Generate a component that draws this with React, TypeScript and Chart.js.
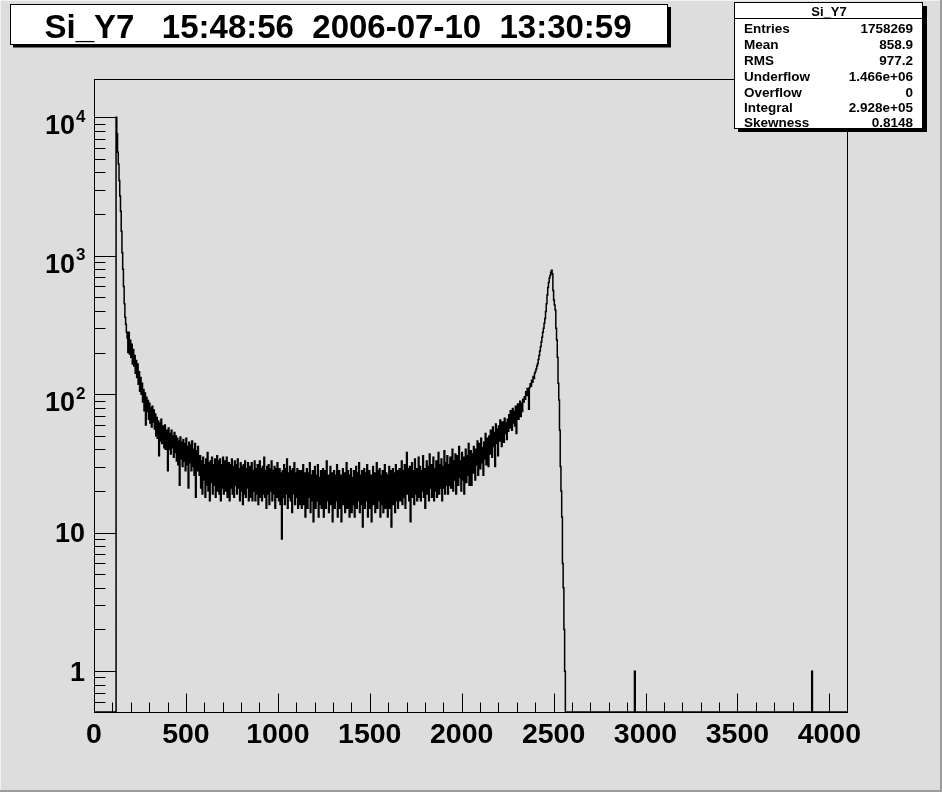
import React, { useEffect, useRef } from 'react';
import { Chart, registerables } from 'chart.js';

Chart.register(...registerables);

// ---------- data (ADC channel histogram, counts per bin) ----------
const BIN_WIDTH = 4;

const decayStart = 120;
const decayCounts = [10000, 7600, 5600, 4600, 3500, 2700, 2100, 1500, 1050, 800, 600, 450, 360, 320, 280];

const shoulderStart = 180;
const shoulderCounts = [
  255, 200, 280, 195, 245, 185, 230, 165, 210, 160,
  190, 142, 175, 132, 165, 118, 145, 105, 132, 100,
  120, 88, 108, 76, 102, 60, 95, 75, 90, 66,
  86, 62, 80, 58, 82, 63, 77, 56, 72, 50,
  68, 48, 64, 36, 62, 46, 66, 44, 59, 50,
  41, 60, 40, 55, 43, 28, 57, 40, 52, 37,
  55, 41, 50, 35, 53, 38, 50, 33, 48, 31,
  46, 22, 49, 34, 45, 30, 47, 33, 44, 28,
  48, 31, 42, 21, 45, 32, 43, 28, 46, 30,
  40, 26, 44, 18, 39, 28, 42, 31, 26,
];

const plateauAStart = 576;
const plateauACounts = [
  36, 21, 33, 19, 35, 24, 31, 18, 34, 22,
  38, 20, 32, 17, 33, 23, 35, 19, 31, 22,
  34, 18, 30, 36, 20, 33, 19, 34, 17, 31,
  21, 35, 19, 30, 33, 20, 35, 18, 29, 32,
  17, 31, 21, 34, 19, 30, 18, 33, 22, 31,
  19, 34, 21, 29, 17, 32, 20, 30, 16, 31,
  19, 33, 18, 29, 21, 32, 17, 28,
];

const plateauBStart = 848;
const plateauBCounts = [
  30, 18, 32, 17, 28, 20, 33, 17, 29, 19,
  31, 16, 27, 33, 18, 29, 17, 30, 19, 35,
  18, 28, 15, 30, 19, 31, 16, 29, 20, 33,
  17, 28, 19, 30, 15, 29, 18, 32, 20, 17,
  29, 16, 27, 9, 28, 18, 31, 16, 29, 19,
  34, 15, 27, 18, 30, 17, 28, 14, 29, 19,
  32, 16, 27, 18, 29, 15, 26, 28,
];

const valleyStart = 1120;
const valleyCounts = [
  16, 28, 15, 25, 31, 16, 27, 13, 24, 29,
  15, 27, 18, 32, 14, 26, 17, 28, 12, 25,
  30, 15, 26, 17, 31, 13, 25, 16, 28, 15,
  24, 29, 13, 24, 28, 15, 33, 17, 26, 14,
  25, 30, 16, 27, 12, 24, 28, 15, 26, 17,
  31, 13, 25, 28, 15, 26, 12, 24, 29, 16,
  27, 14, 25, 32, 15, 28, 17, 13, 26, 29,
  14, 25, 16, 28, 13, 24, 30, 15, 27, 17,
  32, 14, 26, 16, 28, 11, 25, 29, 15, 27,
  17, 31, 13, 25, 28, 15, 26, 12, 24, 30,
  16, 27, 14, 25, 32, 15, 28, 17, 29, 13,
  26, 16, 28, 14, 25, 31, 15, 27, 18, 13,
  26, 30, 15, 28, 11, 25, 29, 16, 27, 14,
  31, 17, 28, 15, 26,
];

const riseAStart = 1660;
const riseACounts = [
  29, 17, 27, 33, 16, 28, 18, 31, 15, 27,
  38, 19, 29, 17, 30, 12, 27, 32, 18, 28,
  16, 34, 19, 29, 17, 28, 35, 18, 30, 17,
  28, 20, 36, 18, 29, 15, 27, 33, 19, 30,
  17, 37, 21, 31, 18, 28, 35, 17, 29, 20,
  33, 18, 30, 38, 19, 31, 21, 34, 17, 30,
  21, 39, 19, 32, 22, 36, 19, 31, 22,
];

const riseBStart = 1936;
const riseBCounts = [
  35, 21, 32, 40, 20, 33, 24, 37, 19, 31,
  36, 22, 42, 25, 33, 20, 38, 24, 35, 19,
  32, 40, 23, 36, 26, 44, 22, 34, 39, 22,
  37, 27, 42, 30, 24, 40, 31, 46, 26, 39,
  44, 29, 48, 32, 41, 26, 45, 34, 52, 31,
  43, 48, 30, 50, 37, 55, 40, 35, 58, 42,
  53, 30, 61, 44, 56, 36, 59, 46, 65, 48,
  42, 63, 51, 45, 67, 52, 62, 47, 66, 54,
  71, 57, 76, 60, 55, 79, 62, 75, 59, 82,
  52, 78, 85, 66, 81, 89, 69, 86, 75, 92,
];

const peakStart = 2336;
const peakCounts = [
  88, 96, 92, 104, 98, 110, 103, 78, 112, 119,
  114, 126, 122, 134, 130, 142, 146, 152, 160, 166,
  178, 190, 205, 220, 238, 258, 280, 300, 325, 352,
  395, 450, 520, 590, 640, 690, 720, 760, 785, 740,
  560, 480, 440, 406, 300, 246, 185, 120, 91, 55,
  30, 20, 13, 6, 4, 2, 1,
];

const strayChannels = [2940, 3904];
const strayCounts = [1, 1];

const X_MIN = 0;
const X_MAX = 4096;
const Y_MIN = 0.507;
const Y_MAX = 18900;

const xTickValues = [0, 500, 1000, 1500, 2000, 2500, 3000, 3500, 4000];
const xTickLabels = ['0', '500', '1000', '1500', '2000', '2500', '3000', '3500', '4000'];
const yTickValues = [1, 10, 100, 1000, 10000];
const yTickBase = ['1', '10', '10', '10', '10'];
const yTickExp = ['', '', '2', '3', '4'];

const titleText = 'Si_Y7   15:48:56  2006-07-10  13:30:59';
const statsTitle = 'Si_Y7';
const statsLabels = ['Entries', 'Mean', 'RMS', 'Underflow', 'Overflow', 'Integral', 'Skewness'];
const statsValues = ['1758269', '858.9', '977.2', '1.466e+06', '0', '2.928e+05', '0.8148'];

// ---------- styling ----------
const CANVAS_BG = '#dddddd';
const FONT = '"Liberation Sans", Arial, Helvetica, sans-serif';

const segments: [number, number[]][] = [
  [decayStart, decayCounts],
  [shoulderStart, shoulderCounts],
  [plateauAStart, plateauACounts],
  [plateauBStart, plateauBCounts],
  [valleyStart, valleyCounts],
  [riseAStart, riseACounts],
  [riseBStart, riseBCounts],
  [peakStart, peakCounts],
];

function buildPoints() {
  const pts: { x: number; y: number }[] = [{ x: X_MIN, y: Y_MIN }];
  let lastEdge = X_MIN;
  segments.forEach(([start, counts]) => {
    counts.forEach((c, i) => {
      pts.push({ x: start + i * BIN_WIDTH, y: Math.max(c, Y_MIN) });
      lastEdge = start + (i + 1) * BIN_WIDTH;
    });
  });
  pts.push({ x: lastEdge, y: Y_MIN });
  strayChannels.forEach((ch, i) => {
    pts.push({ x: ch, y: Math.max(strayCounts[i], Y_MIN) });
    pts.push({ x: ch + BIN_WIDTH, y: Y_MIN });
  });
  pts.push({ x: X_MAX, y: Y_MIN });
  return pts;
}

const rootLook = {
  id: 'rootLook',
  beforeDraw(chart: any) {
    const { ctx, width, height } = chart;
    ctx.save();
    ctx.fillStyle = CANVAS_BG;
    ctx.fillRect(0, 0, width, height);
    ctx.fillStyle = '#f2f2f2';
    ctx.fillRect(0, 0, width, 1);
    ctx.fillRect(0, 0, 1, height);
    ctx.fillStyle = '#9c9c9c';
    ctx.fillRect(0, height - 2, width, 2);
    ctx.fillRect(width - 2, 0, 2, height);
    ctx.restore();
  },
  afterDraw(chart: any) {
    const { ctx, chartArea: a, scales } = chart;
    const xs = scales.x;
    const ys = scales.y;
    ctx.save();
    ctx.strokeStyle = '#000';
    ctx.fillStyle = '#000';
    ctx.lineWidth = 1;
    const L = Math.round(a.left) + 0.5;
    const R = Math.round(a.right) + 0.5;
    const T = Math.round(a.top) + 0.5;
    const B = Math.round(a.bottom) + 0.5;
    ctx.strokeRect(L, T, R - L, B - T);

    // x ticks (inward)
    ctx.beginPath();
    for (let v = 0; v <= X_MAX; v += 100) {
      const px = Math.round(xs.getPixelForValue(v)) + 0.5;
      const len = v % 500 === 0 ? 19 : 10;
      ctx.moveTo(px, B);
      ctx.lineTo(px, B - len);
    }
    // y ticks (inward)
    for (let e = -1; e <= 4; e++) {
      for (let k = 1; k <= 9; k++) {
        const v = k * Math.pow(10, e);
        if (v < Y_MIN || v > Y_MAX) continue;
        const py = Math.round(ys.getPixelForValue(v)) + 0.5;
        const len = k === 1 ? 22 : 11;
        ctx.moveTo(L, py);
        ctx.lineTo(L + len, py);
      }
    }
    ctx.stroke();

    // x labels
    ctx.font = `bold 28.5px ${FONT}`;
    ctx.textAlign = 'center';
    ctx.textBaseline = 'alphabetic';
    xTickValues.forEach((v, i) => {
      ctx.fillText(xTickLabels[i], xs.getPixelForValue(v), 742.5);
    });

    // y labels
    yTickValues.forEach((v, i) => {
      const py = ys.getPixelForValue(v);
      if (yTickExp[i]) {
        ctx.font = `bold 27px ${FONT}`;
        ctx.textAlign = 'right';
        ctx.fillText(yTickBase[i], 75, py + 17);
        ctx.font = `bold 17px ${FONT}`;
        ctx.textAlign = 'left';
        ctx.fillText(yTickExp[i], 76, py + 4.5);
      } else {
        ctx.font = `bold 27px ${FONT}`;
        ctx.textAlign = 'right';
        ctx.fillText(yTickBase[i], 85, py + 9.7);
      }
    });

    // title box
    ctx.fillStyle = '#000';
    ctx.fillRect(13, 7, 658, 40.5);
    ctx.fillStyle = '#ffffff';
    ctx.fillRect(10, 4, 658, 40.5);
    ctx.strokeRect(10.5, 4.5, 657, 40);
    ctx.fillStyle = '#000';
    ctx.font = `bold 33px ${FONT}`;
    ctx.textAlign = 'center';
    ctx.fillText(titleText, 338, 37.5);

    // stats box
    ctx.fillStyle = '#000';
    ctx.fillRect(738, 6, 189, 126);
    ctx.fillStyle = '#ffffff';
    ctx.fillRect(734, 2, 189, 127);
    ctx.strokeRect(734.5, 2.5, 188, 126);
    ctx.beginPath();
    ctx.moveTo(734.5, 18.5);
    ctx.lineTo(922.5, 18.5);
    ctx.stroke();
    ctx.fillStyle = '#000';
    ctx.font = `bold 13px ${FONT}`;
    ctx.textAlign = 'center';
    ctx.fillText(statsTitle, 829, 15.5);
    ctx.font = `bold 13.5px ${FONT}`;
    const rowBase = [32.8, 48.9, 65.1, 81.3, 96.9, 111.6, 127.2];
    statsLabels.forEach((lab, i) => {
      ctx.textAlign = 'left';
      ctx.fillText(lab, 744, rowBase[i]);
      ctx.textAlign = 'right';
      ctx.fillText(statsValues[i], 913, rowBase[i]);
    });
    ctx.restore();
  },
};

export default function App() {
  const canvasRef = useRef<HTMLCanvasElement | null>(null);

  useEffect(() => {
    if (!canvasRef.current) return;
    const chart = new Chart(canvasRef.current, {
      type: 'line',
      data: {
        datasets: [
          {
            label: 'Si_Y7',
            data: buildPoints(),
            borderColor: '#000000',
            borderWidth: 1.5,
            pointRadius: 0,
            stepped: true,
            tension: 0,
            fill: false,
          },
        ],
      },
      options: {
        animation: false,
        responsive: false,
        maintainAspectRatio: false,
        devicePixelRatio: 1,
        events: [],
        layout: { padding: { left: 94, right: 95, top: 79, bottom: 80 } },
        plugins: { legend: { display: false }, tooltip: { enabled: false }, title: { display: false } },
        scales: {
          x: { type: 'linear', min: X_MIN, max: X_MAX, display: false },
          y: { type: 'logarithmic', min: Y_MIN, max: Y_MAX, display: false },
        },
      },
      plugins: [rootLook],
    });
    return () => chart.destroy();
  }, []);

  return (
    <div style={{ position: 'fixed', left: 0, top: 0, width: 942, height: 792 }}>
      <canvas ref={canvasRef} width={942} height={792} style={{ display: 'block', width: 942, height: 792 }} />
    </div>
  );
}
